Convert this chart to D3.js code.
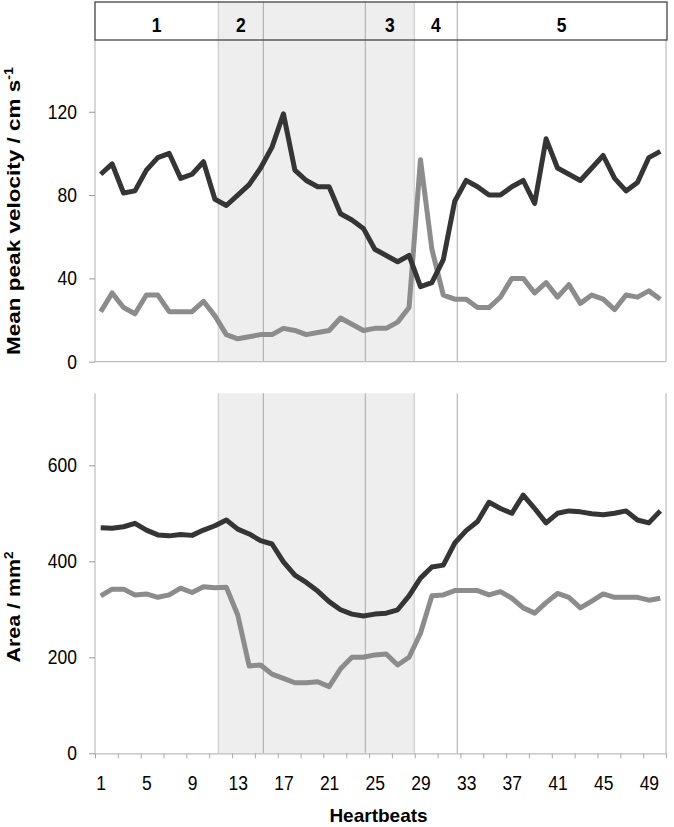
<!DOCTYPE html>
<html><head><meta charset="utf-8">
<script src="https://cdn.jsdelivr.net/npm/d3@7"></script>
<style>
body{margin:0;background:#fff}
svg text{font-family:"Liberation Sans",Arial,Helvetica,sans-serif;fill:#000}
.st{transform-box:fill-box;transform-origin:center;transform:scaleY(1.15)}
</style></head><body><svg id="c" width="674" height="827"></svg>
<script>
// ---- data ----
const beats = d3.range(1, 51);
const xLabelBeats = [1,5,9,13,17,21,25,29,33,37,41,45,49];
const velocityTicks = [0,40,80,120];
const areaTicks = [0,200,400,600];
const velocityDark = [90,95,81,82,92,98,100,88,90,96,78,75,80,85,93,103,119,92,87,84,84,71,68,64,54,51,48,51,36,38,49,77,87,84,80,80,84,87,76,107,93,90,87,93,99,88,82,86,98,101];
const velocityGray = [24,33,26,23,32,32,24,24,24,29,22,13,11,12,13,13,16,15,13,14,15,21,18,15,16,16,19,26,97,54,32,30,30,26,26,31,40,40,33,38,31,37,28,32,30,25,32,31,34,30];
const areaDark = [470,469,472,479,465,455,453,456,454,465,474,486,467,457,443,436,399,371,356,338,316,299,290,286,290,292,299,328,365,388,392,438,464,483,523,510,500,538,510,480,500,505,503,499,497,500,505,486,480,505];
const areaGray = [328,342,342,330,332,325,330,344,335,347,345,346,288,182,184,165,156,147,147,149,139,176,200,200,205,207,184,200,250,328,330,339,339,339,330,337,323,303,292,314,333,325,303,317,332,325,325,325,319,323];
const phaseBounds = [0.5, 11.3, 15.24, 24.17, 28.46, 32.22, 50.5];
const phaseLabels = ["1","2","","3","4","5"];
const shadeFrom = 11.3, shadeTo = 28.46;
const dividerBeats = [15.24, 24.17, 32.22];

// ---- layout ----
const svg = d3.select("#c");
const L = 95, R = 666;
const x = d3.scaleLinear().domain([0.5, 50.5]).range([L, R]);
const yV = d3.scaleLinear().domain([0, 140]).range([361.7, 70.1]);
const yA = d3.scaleLinear().domain([0, 750]).range([753.3, 393.3]);
const topY0 = 2, topY1 = yV(0), botY0 = yA(750), botY1 = yA(0);
const DARK = "#353535", GRAY = "#8c8c8c";

// shading
[[topY0, topY1], [botY0, botY1]].forEach(([a, b]) => {
  svg.append("rect").attr("x", x(shadeFrom)).attr("y", a)
    .attr("width", x(shadeTo) - x(shadeFrom)).attr("height", b - a)
    .attr("fill", "#eeeeee");
  [shadeFrom, shadeTo].forEach(v => svg.append("line")
    .attr("x1", x(v)).attr("x2", x(v)).attr("y1", a).attr("y2", b)
    .attr("stroke", "#d4d4d4").attr("stroke-width", 1.5));
  dividerBeats.forEach(v => svg.append("line")
    .attr("x1", x(v)).attr("x2", x(v)).attr("y1", a).attr("y2", b)
    .attr("stroke", "#a8a8a8").attr("stroke-width", 1));
});

// frame lines
const frame = [
  [L, 40, L, topY1], [R, 40, R, topY1], [L, topY1, R, topY1],
  [R, botY0, R, botY1], [L, botY0, L, botY1]
];
frame.forEach(([x1, y1, x2, y2]) => svg.append("line")
  .attr("x1", x1).attr("y1", y1).attr("x2", x2).attr("y2", y2)
  .attr("stroke", "#bdbdbd").attr("stroke-width", 1.2));

// y axes
function yAxis(scale, ticks) {
  const g = svg.append("g").attr("transform", `translate(${L},0)`)
    .call(d3.axisLeft(scale).tickValues(ticks).tickSize(6).tickPadding(12).tickFormat(d3.format("d")));
  g.select(".domain").remove();
  g.selectAll(".tick line").attr("stroke", "#999");
  g.selectAll("text").attr("font-size", 17.5).attr("class", "st").style("font-family", '"Liberation Sans",Arial,sans-serif');
}
yAxis(yV, velocityTicks);
yAxis(yA, areaTicks);

// bottom x axis: ticks every 2 beats (between categories)
const gx = svg.append("g").attr("transform", `translate(0,${botY1})`)
  .call(d3.axisBottom(x).tickValues(d3.range(0.5, 51, 2)).tickSize(5).tickSizeOuter(0).tickFormat(""));
gx.select(".domain").attr("stroke", "#bdbdbd").attr("stroke-width", 1.2);
gx.selectAll(".tick line").attr("stroke", "#aaa");
const gl = svg.append("g").attr("transform", `translate(0,${botY1})`)
  .call(d3.axisBottom(x).tickValues(xLabelBeats).tickSize(0).tickPadding(23));
gl.select(".domain").remove();
gl.selectAll("text").attr("font-size", 17.5).attr("class", "st").style("font-family", '"Liberation Sans",Arial,sans-serif');

// lines
const lineV = d3.line().x((d, i) => x(beats[i])).y(d => yV(d));
const lineA = d3.line().x((d, i) => x(beats[i])).y(d => yA(d));
[[velocityGray, lineV, GRAY], [velocityDark, lineV, DARK], [areaGray, lineA, GRAY], [areaDark, lineA, DARK]]
  .forEach(([data, gen, col]) => svg.append("path").attr("d", gen(data))
    .attr("fill", "none").attr("stroke", col).attr("stroke-width", 5)
    .attr("stroke-linejoin", "round").attr("stroke-linecap", "butt"));

// header
svg.append("rect").attr("x", L).attr("y", 2).attr("width", 572).attr("height", 38)
  .attr("fill", "none").attr("stroke", "#444").attr("stroke-width", 1.3);
phaseLabels.forEach((lab, i) => {
  if (!lab) return;
  svg.append("text").attr("class", "st")
    .attr("x", x((phaseBounds[i] + phaseBounds[i + 1]) / 2)).attr("y", 31)
    .attr("text-anchor", "middle").attr("font-size", 17.5).attr("font-weight", "bold").text(lab);
});

// axis titles
svg.append("text").attr("x", (L + R) / 2 - 2).attr("y", 822)
  .attr("text-anchor", "middle").attr("font-size", 19).attr("font-weight", "bold").text("Heartbeats");

function yTitle(cy, main, sup, target) {
  const t = svg.append("text").attr("text-anchor", "middle")
    .attr("font-size", 19).attr("font-weight", "bold");
  t.append("tspan").text(main);
  t.append("tspan").attr("dy", -7).attr("font-size", 12).text(sup);
  const len = t.node().getComputedTextLength();
  const s = target / len;
  t.attr("transform", `translate(20,${cy}) rotate(-90) scale(${s},1)`);
}
yTitle(211, "Mean peak velocity / cm s", "-1", 288);
yTitle(607, "Area / mm", "2", 111);
</script></body></html>
